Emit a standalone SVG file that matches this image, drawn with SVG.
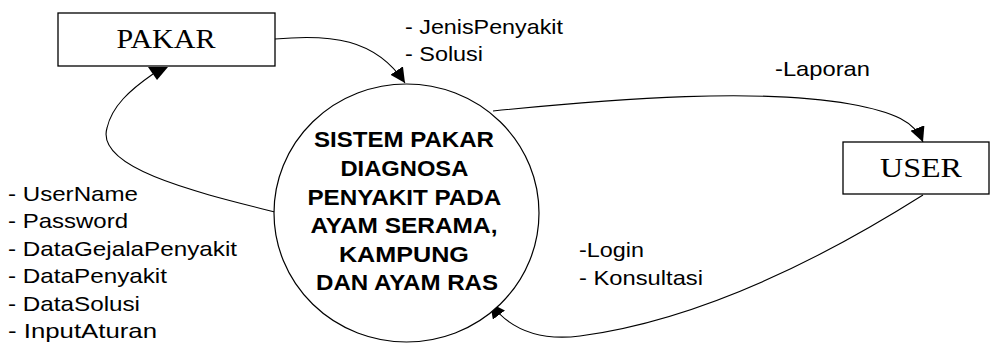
<svg xmlns="http://www.w3.org/2000/svg" width="992" height="343" viewBox="0 0 992 343">
<style>
.box{fill:#fff;stroke:#000;stroke-width:1.3}
.proc{fill:#fff;stroke:#000;stroke-width:1.2}
.ent{font-family:"Liberation Serif","Times New Roman",serif;font-size:27px;fill:#000}
.ptxt{font-family:"Liberation Sans",Arial,sans-serif;font-size:22px;font-weight:bold;fill:#000}
.lbl{font-family:"Liberation Sans",Arial,sans-serif;font-size:21px;fill:#000}
.flow{fill:none;stroke:#000;stroke-width:1.1}
</style>
<defs>
<marker id="arr" markerUnits="userSpaceOnUse" markerWidth="16" markerHeight="16" refX="15" refY="7.5" orient="auto">
<path d="M0,0 L15,7.5 L0,15 z" fill="#000"/>
</marker>
</defs>
<g id="connectors">
<path class="flow" d="M275,39 C330,34 375,38 405,83" marker-end="url(#arr)"/>
<path class="flow" d="M275,212 C195,192 95,168 107,128 C112,106 130,90 153,74"/>
<polygon points="148,67 168,67 157,80" fill="#000"/>
<path class="flow" d="M493,111 C620,98 760,88 850,104 C895,112 915,122 923,142" marker-end="url(#arr)"/>
<path class="flow" d="M923,195 C820,260 700,320 580,336 C540,341 510,330 490,303" marker-end="url(#arr)"/>
</g>
<g id="pakar">
<rect class="box" x="58" y="13" width="217" height="53"/>
<text class="ent" x="166" y="48" text-anchor="middle" textLength="99" lengthAdjust="spacingAndGlyphs">PAKAR</text>
</g>
<g id="user">
<rect class="box" x="843" y="142" width="146" height="52"/>
<text class="ent" x="921" y="177" text-anchor="middle" textLength="82" lengthAdjust="spacingAndGlyphs">USER</text>
</g>
<g id="sistem">
<ellipse class="proc" cx="406.5" cy="213" rx="132.5" ry="129"/>
<text class="ptxt" text-anchor="middle">
<tspan x="407" y="147" textLength="180" lengthAdjust="spacingAndGlyphs">SISTEM PAKAR</tspan>
<tspan x="407" y="176" textLength="127" lengthAdjust="spacingAndGlyphs">DIAGNOSA</tspan>
<tspan x="407" y="205" textLength="193" lengthAdjust="spacingAndGlyphs">PENYAKIT PADA</tspan>
<tspan x="407" y="233" textLength="187" lengthAdjust="spacingAndGlyphs">AYAM SERAMA,</tspan>
<tspan x="407" y="262" textLength="130" lengthAdjust="spacingAndGlyphs">KAMPUNG</tspan>
<tspan x="407" y="290" textLength="182" lengthAdjust="spacingAndGlyphs">DAN AYAM RAS</tspan>
</text>
</g>
<g id="labels">
<text class="lbl" x="405" y="34" textLength="158" lengthAdjust="spacingAndGlyphs">- JenisPenyakit</text>
<text class="lbl" x="405" y="61" textLength="78" lengthAdjust="spacingAndGlyphs">- Solusi</text>
<text class="lbl" x="775" y="76" textLength="95" lengthAdjust="spacingAndGlyphs">-Laporan</text>
<text class="lbl" x="579" y="257" textLength="65" lengthAdjust="spacingAndGlyphs">-Login</text>
<text class="lbl" x="579" y="285" textLength="124" lengthAdjust="spacingAndGlyphs">- Konsultasi</text>
<text class="lbl" x="8" y="201" textLength="130" lengthAdjust="spacingAndGlyphs">- UserName</text>
<text class="lbl" x="8" y="228.4" textLength="120" lengthAdjust="spacingAndGlyphs">- Password</text>
<text class="lbl" x="8" y="255.8" textLength="229" lengthAdjust="spacingAndGlyphs">- DataGejalaPenyakit</text>
<text class="lbl" x="8" y="283.2" textLength="159" lengthAdjust="spacingAndGlyphs">- DataPenyakit</text>
<text class="lbl" x="8" y="310.6" textLength="132" lengthAdjust="spacingAndGlyphs">- DataSolusi</text>
<text class="lbl" x="8" y="338" textLength="149" lengthAdjust="spacingAndGlyphs">- InputAturan</text>
</g>
</svg>
